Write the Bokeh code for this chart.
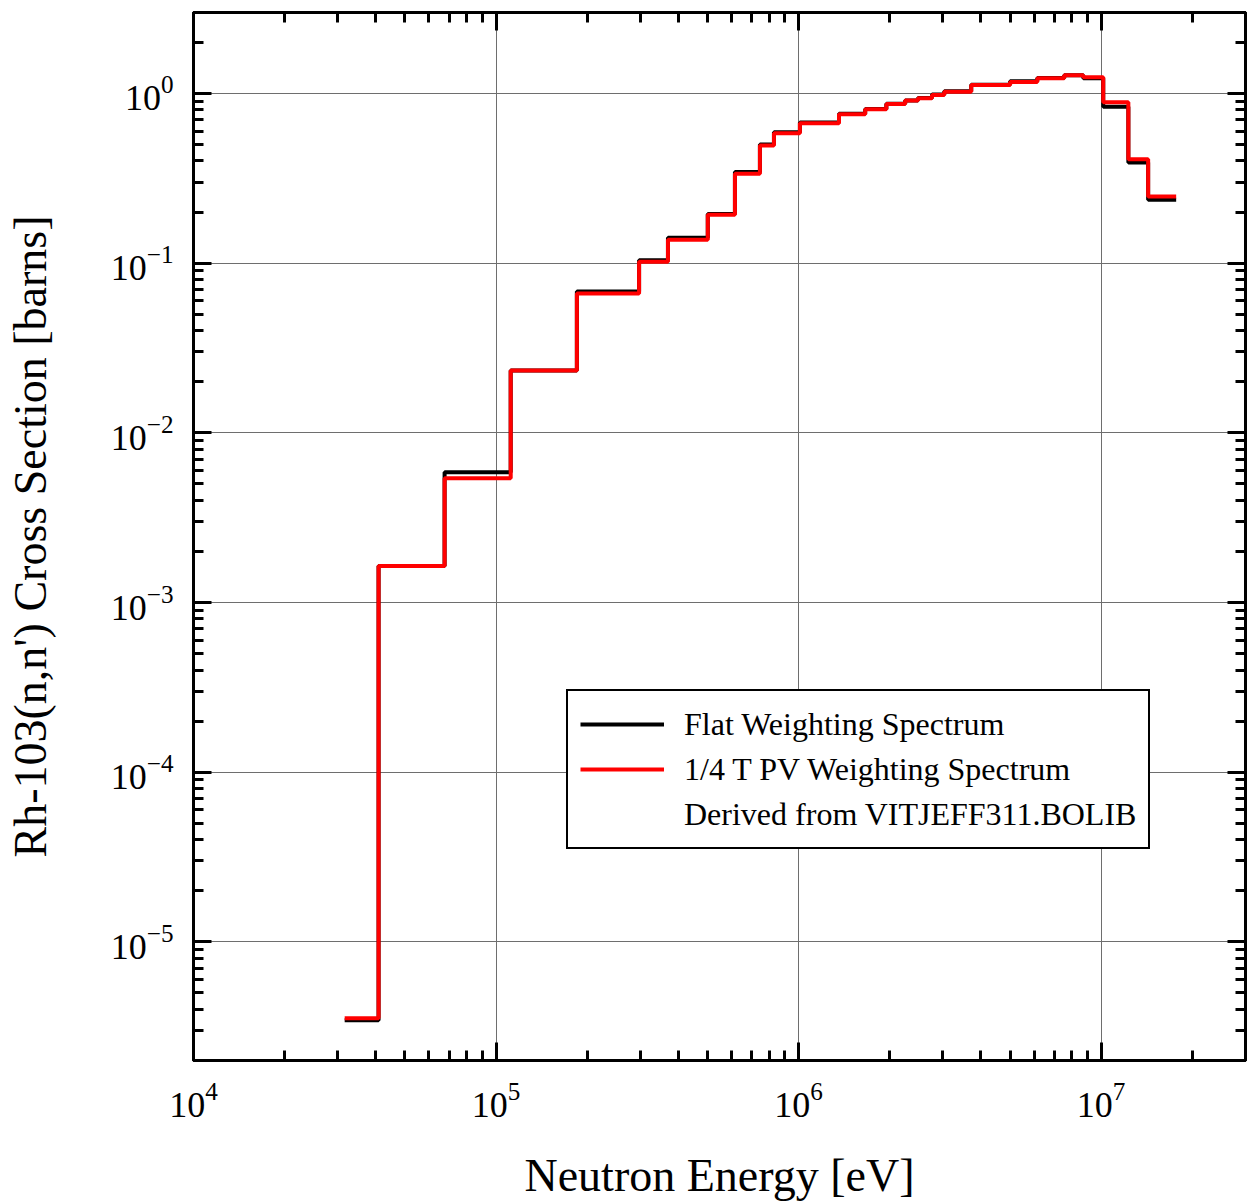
from bokeh.plotting import figure
from bokeh.models import LogAxis, FixedTicker, Legend, LegendItem, Range1d, LogTickFormatter
from bokeh.embed import file_html
from bokeh.resources import INLINE

# Group boundaries [eV] (27 groups)
edges = [3.16e4, 4.09e4, 6.76e4, 1.118e5, 1.85e5, 2.97e5, 3.70e5, 5.01e5, 6.16e5,
         7.45e5, 8.29e5, 1.01e6, 1.36e6, 1.66e6, 1.95e6, 2.25e6, 2.48e6, 2.76e6,
         3.03e6, 3.72e6, 5.0e6, 6.15e6, 7.55e6, 8.73e6, 1.016e7, 1.23e7, 1.43e7, 1.77e7]

# Flat weighting spectrum cross section [barns]
flat = [3.45e-6, 1.64e-3, 5.86e-3, 0.0233, 0.068, 0.104, 0.141, 0.195, 0.345,
        0.50, 0.59, 0.675, 0.76, 0.81, 0.87, 0.91, 0.94, 0.985, 1.03, 1.125,
        1.18, 1.235, 1.28, 1.23, 0.836, 0.392, 0.236]

# 1/4 T PV weighting spectrum cross section [barns]
pv = [3.55e-6, 1.64e-3, 5.4e-3, 0.0233, 0.0662, 0.102, 0.1375, 0.193, 0.336,
      0.493, 0.583, 0.668, 0.755, 0.807, 0.868, 0.908, 0.937, 0.98, 1.025, 1.12,
      1.17, 1.23, 1.28, 1.245, 0.888, 0.41, 0.247]

x_major = [1e4, 1e5, 1e6, 1e7]
y_major = [1e-5, 1e-4, 1e-3, 1e-2, 1e-1, 1e0]

FONT = "Liberation Serif"

x_minor = [k * 10.0 ** n for n in range(4, 8) for k in range(2, 10)]
y_minor = [k * 10.0 ** n for n in range(-6, 1) for k in range(2, 10)]

p = figure(x_axis_type="log", y_axis_type="log",
           x_range=Range1d(1e4, 3e7), y_range=Range1d(2e-6, 3.0),
           frame_width=1052, frame_height=1048,
           min_border_left=193, min_border_right=4, min_border_top=12, min_border_bottom=144,
           output_backend="svg", toolbar_location=None)

p.outline_line_color = "black"
p.outline_line_width = 3
p.background_fill_color = "white"
p.border_fill_color = "white"

xt = FixedTicker(ticks=x_major, minor_ticks=x_minor)
yt = FixedTicker(ticks=y_major, minor_ticks=y_minor)


def style(ax, labels=True, majors=()):
    ax.axis_line_width = 3
    ax.axis_line_color = "black"
    ax.major_tick_in = 18
    ax.major_tick_out = 0
    ax.minor_tick_in = 10
    ax.minor_tick_out = 0
    ax.major_tick_line_width = 3
    ax.minor_tick_line_width = 3
    ax.major_tick_line_color = "black"
    ax.minor_tick_line_color = "black"
    ax.major_label_text_font = FONT
    ax.major_label_text_color = "black"
    ax.major_label_text_font_size = "36px"
    ax.axis_label_text_font = FONT
    ax.axis_label_text_font_style = "normal"
    ax.axis_label_text_color = "black"
    ax.axis_label_text_font_size = "46px"
    if not labels:
        ax.major_label_overrides = {v: "" for v in majors}
        ax.major_label_standoff = 0


xa = p.xaxis[0]
xa.ticker = xt
xa.formatter = LogTickFormatter()
style(xa)
xa.axis_label = "Neutron Energy [eV]"
xa.major_label_standoff = 22
xa.axis_label_standoff = 30

ya = p.yaxis[0]
ya.ticker = yt
ya.formatter = LogTickFormatter()
style(ya)
ya.axis_label = "Rh-103(n,n') Cross Section [barns]"
ya.major_label_standoff = 20
ya.axis_label_standoff = 52

top = LogAxis(ticker=xt)
style(top, labels=False, majors=x_major)
p.add_layout(top, "above")
right = LogAxis(ticker=yt)
style(right, labels=False, majors=y_major)
p.add_layout(right, "right")

p.xgrid.ticker = xt
p.ygrid.ticker = yt
p.grid.grid_line_color = "#6e6e6e"
p.grid.grid_line_width = 1
p.grid.minor_grid_line_color = None

r_flat = p.step(x=edges, y=flat + [flat[-1]], mode="after",
                line_color="black", line_width=4)
r_pv = p.step(x=edges, y=pv + [pv[-1]], mode="after",
              line_color="#ff0000", line_width=4)
r_note = p.line(x=[1e5, 1e5], y=[1e-3, 1e-3], line_alpha=0)

legend = Legend(items=[
    LegendItem(label="Flat Weighting Spectrum", renderers=[r_flat]),
    LegendItem(label="1/4 T PV Weighting Spectrum", renderers=[r_pv]),
    LegendItem(label="Derived from VITJEFF311.BOLIB", renderers=[r_note]),
], location=(373, 211))
legend.border_line_color = "black"
legend.border_line_alpha = 1.0
legend.border_line_width = 2
legend.background_fill_color = "white"
legend.background_fill_alpha = 1
legend.label_text_font = FONT
legend.label_text_font_size = "32px"
legend.label_text_color = "black"
legend.glyph_width = 84
legend.glyph_height = 42
legend.label_height = 42
legend.label_standoff = 20
legend.padding = 12
legend.spacing = 3
legend.margin = 0
p.add_layout(legend, "center")

open("out.html", "w").write(file_html(p, INLINE))
